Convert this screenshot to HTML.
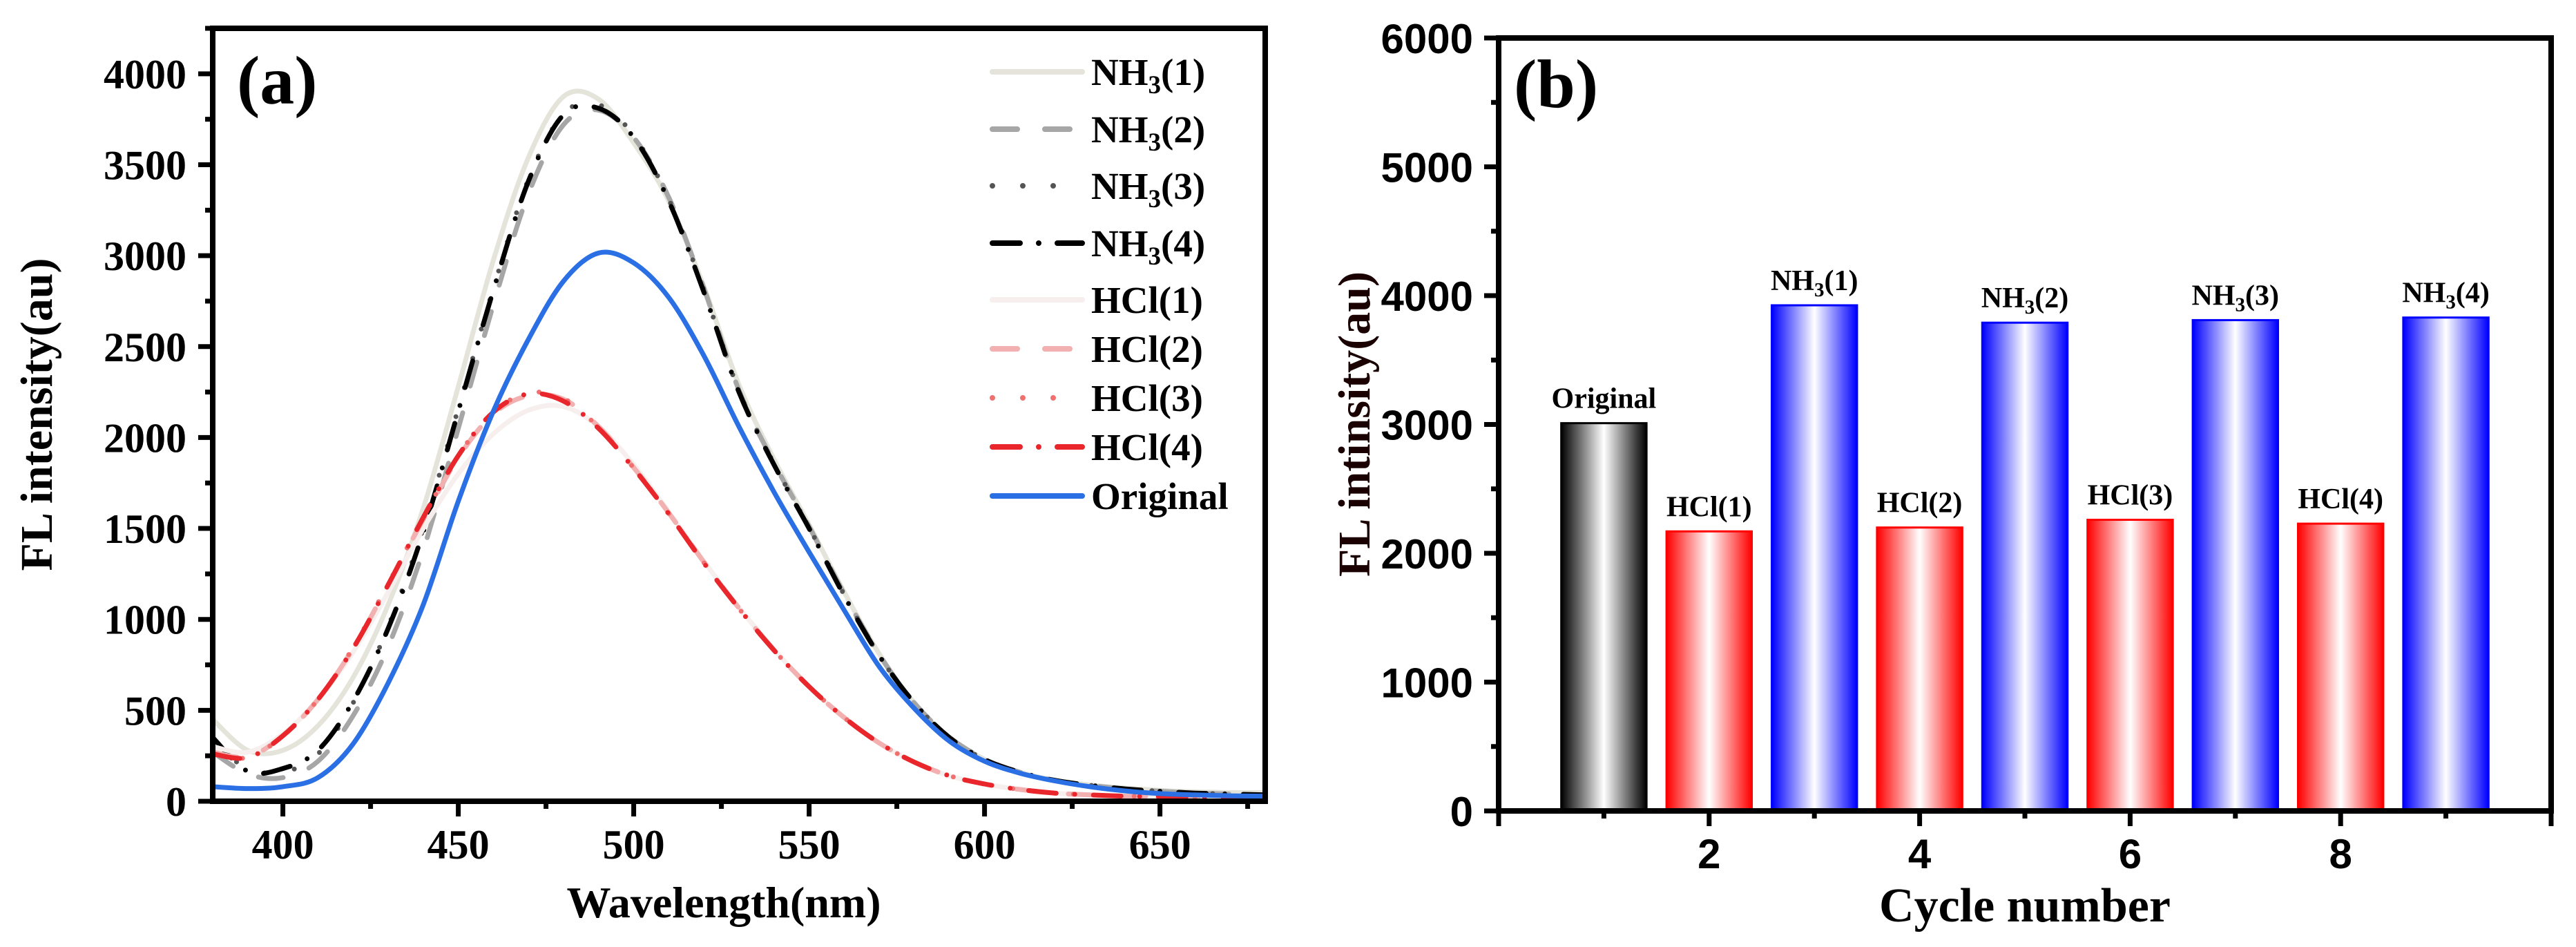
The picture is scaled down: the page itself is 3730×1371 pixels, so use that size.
<!DOCTYPE html>
<html><head><meta charset="utf-8"><style>
html,body{margin:0;padding:0;background:#fff}
svg{display:block}
.serif{font-family:"Liberation Serif",serif;font-weight:bold}
.sans{font-family:"Liberation Sans",sans-serif;font-weight:bold}
</style></head><body>
<svg id="fig" width="3730" height="1371" viewBox="0 0 3730 1371" xmlns="http://www.w3.org/2000/svg">
<defs>
<clipPath id="clipA"><rect x="308" y="41" width="1524" height="1119"/></clipPath>
<linearGradient id="gRed" x1="0" x2="1" y1="0" y2="0"><stop offset="0" stop-color="#ff0000"/><stop offset="0.5" stop-color="#fff"/><stop offset="1" stop-color="#ff0000"/></linearGradient>
<linearGradient id="gBlue" x1="0" x2="1" y1="0" y2="0"><stop offset="0" stop-color="#0000ff"/><stop offset="0.5" stop-color="#fff"/><stop offset="1" stop-color="#0000ff"/></linearGradient>
<linearGradient id="gBlk" x1="0" x2="1" y1="0" y2="0"><stop offset="0" stop-color="#000"/><stop offset="0.5" stop-color="#fff"/><stop offset="1" stop-color="#000"/></linearGradient>
</defs>
<g id="panelA"></g>
<g id="panelB"></g>
</svg>
<script>
// ---------- Panel A data ----------
const wavelengths = [380,390,400,410,420,430,440,450,460,470,480,490,500,510,520,530,540,550,560,570,580,590,600,610,620,630,640,650,660,670,680];
const nh3_1 = [450,280,280,415,680,1080,1610,2280,2975,3540,3875,3860,3620,3300,2830,2290,1880,1520,1150,810,540,350,230,160,115,90,72,60,52,48,48];
const nh3_2 = [270,150,130,220,470,850,1380,2050,2730,3340,3720,3800,3650,3320,2820,2260,1860,1510,1140,805,540,352,232,160,115,88,68,55,45,40,35];
const nh3_3 = [320,180,160,260,540,960,1500,2160,2820,3420,3780,3830,3660,3310,2810,2255,1855,1505,1135,800,540,350,230,160,115,88,68,55,45,40,35];
const nh3_4 = [350,165,180,280,550,950,1480,2145,2810,3410,3775,3810,3650,3300,2800,2250,1850,1500,1130,800,540,350,230,160,115,88,68,55,45,40,35];
const hcl_1 = [300,270,370,560,820,1150,1500,1800,2020,2150,2170,2060,1850,1590,1320,1065,835,630,460,320,215,140,95,65,45,35,28,25,22,20,20];
const hcl_2 = [270,245,360,560,840,1190,1550,1890,2130,2230,2210,2060,1835,1585,1315,1062,832,630,460,320,215,140,95,65,45,35,28,25,22,20,20];
const hcl_3 = [265,240,360,560,845,1195,1560,1900,2140,2245,2215,2055,1832,1582,1312,1060,830,630,460,320,215,140,95,65,45,35,28,25,22,20,20];
const hcl_4 = [260,240,360,560,840,1190,1560,1900,2140,2240,2200,2050,1830,1580,1310,1060,830,630,460,320,215,140,95,65,45,35,28,25,22,20,20];
const original = [80,70,80,130,315,650,1080,1650,2145,2540,2860,3015,2960,2770,2450,2060,1700,1370,1050,740,510,330,220,155,112,80,57,42,35,30,28];
const seriesNames = ["NH3(1)","NH3(2)","NH3(3)","NH3(4)","HCl(1)","HCl(2)","HCl(3)","HCl(4)","Original"];
const xTicksA = [400,450,500,550,600,650];
const yTicksA = [0,500,1000,1500,2000,2500,3000,3500,4000];

// ---------- Panel B data ----------
const cycles = [1,2,3,4,5,6,7,8,9];
const barValues = [3010,2170,3925,2200,3790,2260,3810,2230,3830];
const barLabels = ["Original","HCl(1)","NH3(1)","HCl(2)","NH3(2)","HCl(3)","NH3(3)","HCl(4)","NH3(4)"];
const xTicksB = [2,4,6,8];
const yTicksB = [0,1000,2000,3000,4000,5000,6000];

const NS = "http://www.w3.org/2000/svg";
function mk(tag, attrs, parent){const e=document.createElementNS(NS,tag);for(const k in attrs)e.setAttribute(k,attrs[k]);parent.appendChild(e);return e;}
function chemText(parent, str, x, y, size, anchor){
  const t = mk('text',{x:x,y:y,'font-size':size,'text-anchor':anchor,'class':'serif',fill:'#000'},parent);
  const m = str.match(/^NH3(.*)$/);
  if(m){
    const a=document.createElementNS(NS,'tspan');a.textContent='NH';t.appendChild(a);
    const b=document.createElementNS(NS,'tspan');b.setAttribute('font-size',Math.round(size*0.68));b.setAttribute('dy',Math.round(size*0.22));b.textContent='3';t.appendChild(b);
    const c=document.createElementNS(NS,'tspan');c.setAttribute('dy',-Math.round(size*0.22));c.textContent=m[1];t.appendChild(c);
  } else t.textContent=str;
  return t;
}

// ===== Panel A =====
const A = document.getElementById('panelA');
const aL=308,aR=1832,aT=41,aB=1160;
const xA = v => aL + (v-380)/(680-380)*(aR-aL);
const yA = v => aB - v/4250*(aB-aT);

for(let v=0; v<=4250; v+=250){
  const major = v%500===0;
  const tk = mk('line',{x1:aL,x2:aL-(major?21:11),y1:yA(v),y2:yA(v),stroke:'#000','stroke-width':7},A);
  
  
}
for(let v=400; v<=675; v+=25){
  const major = v%50===0;
  const tk = mk('line',{x1:xA(v),x2:xA(v),y1:aB,y2:aB+(major?22:11),stroke:'#000','stroke-width':7},A);
  
  
}
yTicksA.forEach(v=>{
  const t = mk('text',{x:270,y:yA(v)+21,'font-size':60,'text-anchor':'end','class':'serif'},A);
  t.textContent=v;
  
  
});
xTicksA.forEach(v=>{
  const t = mk('text',{x:xA(v),y:1243,'font-size':60,'text-anchor':'middle','class':'serif'},A);
  t.textContent=v;
  
  
});

function smoothPath(xs, ys){
  const p = xs.map((x,i)=>[xA(x),yA(ys[i])]);
  let d = `M${p[0][0].toFixed(1)},${p[0][1].toFixed(1)}`;
  for(let i=0;i<p.length-1;i++){
    const p0=p[Math.max(0,i-1)],p1=p[i],p2=p[i+1],p3=p[Math.min(p.length-1,i+2)];
    const c1=[p1[0]+(p2[0]-p0[0])/6,p1[1]+(p2[1]-p0[1])/6];
    const c2=[p2[0]-(p3[0]-p1[0])/6,p2[1]-(p3[1]-p1[1])/6];
    d+=` C${c1[0].toFixed(1)},${c1[1].toFixed(1)} ${c2[0].toFixed(1)},${c2[1].toFixed(1)} ${p2[0].toFixed(1)},${p2[1].toFixed(1)}`;
  }
  return d;
}
const styles = [
  {c:'#e4e4da',dash:''},
  {c:'#a6a6a6',dash:'36 40'},
  {c:'#555555',dash:'0 44'},
  {c:'#000000',dash:'40 27 0 27'},
  {c:'#f6efee',dash:''},
  {c:'#f2b0b0',dash:'36 40'},
  {c:'#f07070',dash:'0 44'},
  {c:'#e8262b',dash:'40 27 0 27'},
  {c:'#2a6fe4',dash:''}
];
const allSeries=[nh3_1,nh3_2,nh3_3,nh3_4,hcl_1,hcl_2,hcl_3,hcl_4,original];
const curveG = mk('g',{'clip-path':'url(#clipA)'},A);
allSeries.forEach((s,i)=>{
  const st=styles[i];
  const p = mk('path',{d:smoothPath(wavelengths,s),fill:'none',stroke:st.c,'stroke-width':7,'stroke-linecap':'round','stroke-linejoin':'round'},curveG);
  if(st.dash) p.setAttribute('stroke-dasharray',st.dash);
  
  
});

const fa = mk('rect',{x:aL,y:aT,width:aR-aL,height:aB-aT,fill:'none',stroke:'#000','stroke-width':8},A);



const legY=[104,187,269,352,434,505,576,647,718];
seriesNames.forEach((n,i)=>{
  const st=styles[i];
  const g = mk('g',{},A);
  
  
  const ln = mk('line',{x1:1437,x2:1567,y1:legY[i],y2:legY[i],stroke:st.c,'stroke-width':8,'stroke-linecap':'round'},g);
  if(st.dash) ln.setAttribute('stroke-dasharray',st.dash);
  chemText(g,n,1580,legY[i]+19,55,'start');
});

const la = mk('text',{x:343,y:150,'font-size':100,'class':'serif'},A);
la.textContent='(a)';


const xtA = mk('text',{x:1048,y:1328,'font-size':64,'text-anchor':'middle','class':'serif'},A);
xtA.textContent='Wavelength(nm)';


const ytA = mk('text',{x:0,y:0,'font-size':66,'text-anchor':'middle','class':'serif',transform:'translate(75,600) rotate(-90)'},A);
ytA.textContent='FL intensity(au)';



// ===== Panel B =====
const B = document.getElementById('panelB');
const bL=2170,bR=3694,bT=55,bB=1174;
const xB = v => bL + v/10*(bR-bL);
const yB = v => bB - v/6000*(bB-bT);

for(let v=0; v<=6000; v+=500){
  const major=v%1000===0;
  const tk = mk('line',{x1:bL,x2:bL-(major?21:11),y1:yB(v),y2:yB(v),stroke:'#000','stroke-width':7},B);
  
  
}
for(let v=0; v<=10; v+=1){
  const major=v%2===0;
  const tk = mk('line',{x1:xB(v),x2:xB(v),y1:bB,y2:bB+(major?22:11),stroke:'#000','stroke-width':7},B);
  
  
}
yTicksB.forEach(v=>{
  const t = mk('text',{x:2133,y:yB(v)+22,'font-size':60,'text-anchor':'end','class':'sans'},B);
  t.textContent=v;
  
  
});
xTicksB.forEach(v=>{
  const t = mk('text',{x:xB(v),y:1257,'font-size':60,'text-anchor':'middle','class':'sans'},B);
  t.textContent=v;
  
  
});

const bw = 0.81;
cycles.forEach((c,i)=>{
  const v=barValues[i];
  const lbl=barLabels[i];
  const isO=lbl==='Original', isH=lbl.startsWith('HCl');
  const fill = isO?'url(#gBlk)':(isH?'url(#gRed)':'url(#gBlue)');
  const stroke = isO?'#000':(isH?'#ff0000':'#0000ff');
  const x0=xB(c-bw/2), x1=xB(c+bw/2);
  const r = mk('rect',{x:x0,y:yB(v),width:x1-x0,height:bB-yB(v),fill:fill,stroke:stroke,'stroke-width':3},B);
  
  
  const t = chemText(B,lbl,xB(c),yB(v)-22,42,'middle');
  
  
});

const fb = mk('rect',{x:bL,y:bT,width:bR-bL,height:bB-bT,fill:'none',stroke:'#000','stroke-width':8},B);



const lb = mk('text',{x:2192,y:155,'font-size':100,'class':'serif'},B);
lb.textContent='(b)';


const xtB = mk('text',{x:2932,y:1334,'font-size':70,'text-anchor':'middle','class':'serif'},B);
xtB.textContent='Cycle number';


const ytB = mk('text',{x:0,y:0,'font-size':66,'text-anchor':'middle','class':'serif',fill:'#1a0000',transform:'translate(1983,614) rotate(-90)'},B);
ytB.textContent='FL intinsity(au)';


</script>
</body></html>
